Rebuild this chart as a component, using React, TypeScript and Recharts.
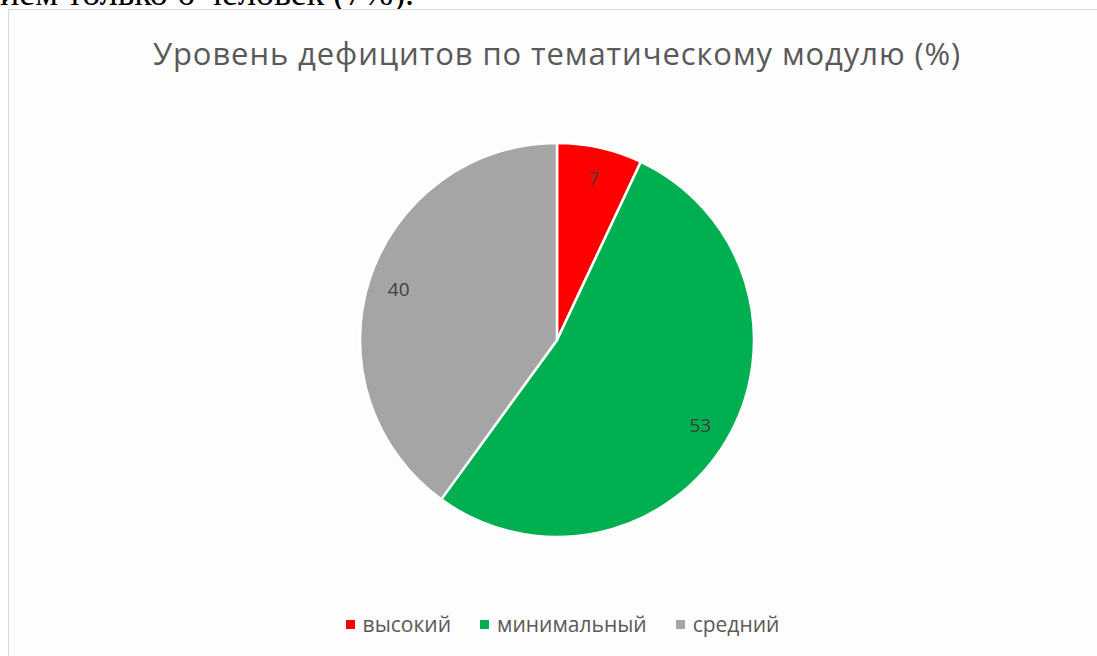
import React from "react";
import { PieChart, Pie, Cell, Legend } from "recharts";

const categories = ["высокий", "минимальный", "средний"];
const values = [7, 53, 40];
const colors = ["#FF0000", "#00B050", "#A5A5A5"];
const title = "Уровень дефицитов по тематическому модулю (%)";
const topText = "ием только 6 человек (7%).";

const data = categories.map((name, i) => ({ name, value: values[i] }));

const RAD = Math.PI / 180;
const renderLabel = (props: any) => {
  const { cx, cy, midAngle, outerRadius, value } = props;
  const r = outerRadius * 0.845;
  const x = cx + r * Math.cos(-midAngle * RAD);
  const y = cy + r * Math.sin(-midAngle * RAD);
  return (
    <text
      x={x}
      y={y}
      fill="#404040"
      fontSize={19}
      fontFamily="'Open Sans', sans-serif"
      textAnchor="middle"
      dominantBaseline="central"
    >
      {value}
    </text>
  );
};

const renderLegend = () => (
  <div
    style={{
      display: "flex",
      justifyContent: "center",
      alignItems: "center",
      fontFamily: "'Open Sans', sans-serif",
      fontSize: 21,
      lineHeight: "26px",
      color: "#595959",
      gap: 29,
    }}
  >
    {categories.map((c, i) => (
      <div key={c} style={{ display: "flex", alignItems: "center" }}>
        <span
          style={{
            display: "inline-block",
            width: 9,
            height: 9,
            background: colors[i],
            marginRight: 8,
          }}
        />
        <span>{c}</span>
      </div>
    ))}
  </div>
);

export default function App() {
  return (
    <div style={{ position: "absolute", left: 0, top: 0, width: 1097, height: 656, overflow: "hidden", background: "#fff" }}>
      <div
        style={{
          position: "absolute",
          left: 0,
          top: -25,
          fontFamily: "'Liberation Serif', serif",
          fontSize: 36,
          lineHeight: "36px",
          color: "#000",
          whiteSpace: "nowrap",
        }}
      >
        {topText}
      </div>
      <div
        style={{
          position: "absolute",
          left: 8,
          top: 9,
          width: 1100,
          height: 660,
          border: "1px solid #d9d9d9",
          background: "#fdfdfd",
        }}
      />
      <div style={{ position: "absolute", left: 0, top: 0 }}>
        <PieChart width={1097} height={656} margin={{ top: 0, right: 0, bottom: 0, left: 0 }}>
          <text
            x={557}
            y={65}
            textAnchor="middle"
            fill="#595959"
            fontSize={31}
            letterSpacing={0.9}
            fontFamily="'Open Sans', sans-serif"
          >
            {title}
          </text>
          <Pie
            data={data}
            dataKey="value"
            nameKey="name"
            cx={557}
            cy={340}
            outerRadius={197}
            startAngle={90}
            endAngle={-270}
            stroke="#ffffff"
            strokeWidth={2.5}
            label={renderLabel}
            labelLine={false}
            isAnimationActive={false}
          >
            {data.map((d, i) => (
              <Cell key={d.name} fill={colors[i]} />
            ))}
          </Pie>
          <Legend
            content={renderLegend}
            verticalAlign="bottom"
            wrapperStyle={{ top: 611, left: 14, width: 1097, bottom: "auto" }}
          />
        </PieChart>
      </div>
    </div>
  );
}
